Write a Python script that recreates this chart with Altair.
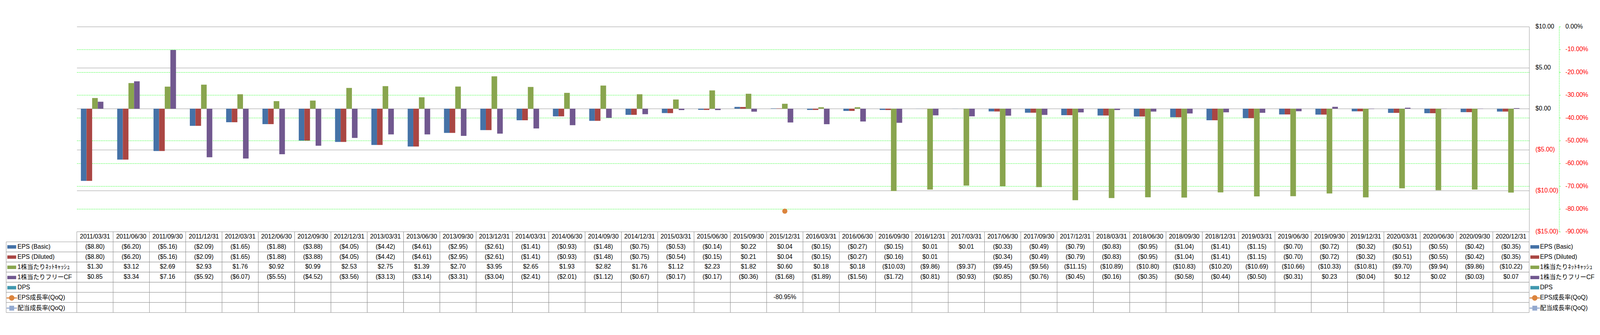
import altair as alt
import pandas as pd

# ---------------- data ----------------
dates = [
    "2011/03/31", "2011/06/30", "2011/09/30", "2011/12/31",
    "2012/03/31", "2012/06/30", "2012/09/30", "2012/12/31",
    "2013/03/31", "2013/06/30", "2013/09/30", "2013/12/31",
    "2014/03/31", "2014/06/30", "2014/09/30", "2014/12/31",
    "2015/03/31", "2015/06/30", "2015/09/30", "2015/12/31",
    "2016/03/31", "2016/06/30", "2016/09/30", "2016/12/31",
    "2017/03/31", "2017/06/30", "2017/09/30", "2017/12/31",
    "2018/03/31", "2018/06/30", "2018/09/30", "2018/12/31",
    "2019/03/31", "2019/06/30", "2019/09/30", "2019/12/31",
    "2020/03/31", "2020/06/30", "2020/09/30", "2020/12/31",
]

eps_basic = [-8.80, -6.20, -5.16, -2.09, -1.65, -1.88, -3.88, -4.05,
             -4.42, -4.61, -2.95, -2.61, -1.41, -0.93, -1.48, -0.75,
             -0.53, -0.14, 0.22, 0.04, -0.15, -0.27, -0.15, 0.01,
             0.01, -0.33, -0.49, -0.79, -0.83, -0.95, -1.04, -1.41,
             -1.15, -0.70, -0.72, -0.32, -0.51, -0.55, -0.42, -0.35]
eps_diluted = [-8.80, -6.20, -5.16, -2.09, -1.65, -1.88, -3.88, -4.05,
               -4.42, -4.61, -2.95, -2.61, -1.41, -0.93, -1.48, -0.75,
               -0.54, -0.15, 0.21, 0.04, -0.15, -0.27, -0.16, 0.01,
               None, -0.34, -0.49, -0.79, -0.83, -0.95, -1.04, -1.41,
               -1.15, -0.70, -0.72, -0.32, -0.51, -0.55, -0.42, -0.35]
net_cash = [1.30, 3.12, 2.69, 2.93, 1.76, 0.92, 0.99, 2.53,
            2.75, 1.39, 2.70, 3.95, 2.65, 1.93, 2.82, 1.76,
            1.12, 2.23, 1.82, 0.60, 0.18, 0.18, -10.03, -9.86,
            -9.37, -9.45, -9.56, -11.15, -10.89, -10.80, -10.83, -10.20,
            -10.69, -10.66, -10.33, -10.81, -9.70, -9.94, -9.86, -10.22]
fcf = [0.85, 3.34, 7.16, -5.92, -6.07, -5.55, -4.52, -3.56,
       -3.13, -3.14, -3.31, -3.04, -2.41, -2.01, -1.12, -0.67,
       -0.17, -0.17, -0.36, -1.68, -1.89, -1.56, -1.72, -0.81,
       -0.93, -0.85, -0.76, -0.45, -0.16, -0.35, -0.58, -0.44,
       -0.50, -0.31, 0.23, -0.04, 0.12, 0.02, -0.03, 0.07]
dps = [None] * 40
eps_growth = [None] * 19 + [-0.8095] + [None] * 20
div_growth = [None] * 40

series_names = ["EPS (Basic)", "EPS (Diluted)", "1株当たりﾈｯﾄｷｬｯｼｭ",
                "1株当たりフリーCF", "DPS", "EPS成長率(QoQ)", "配当成長率(QoQ)"]
series_colors = ["#4572A7", "#AA4643", "#89A54E", "#71588F",
                 "#4198AF", "#DB843D", "#93A9CF"]
series_kind = ["money", "money", "money", "money", "money", "pct", "pct"]

money_ticks = [-15, -10, -5, 0, 5, 10]
pct_ticks = [0, -0.1, -0.2, -0.3, -0.4, -0.5, -0.6, -0.7, -0.8, -0.9]

# ---------------- styling ----------------
FONT = "Liberation Sans, Arial, Noto Sans CJK JP, sans-serif"
GRAY = "#868686"
GREEN = "#00FF00"
W = 4268
H1 = 603
ROWH = 29.7
H2 = ROWH * 8

bar_series = series_names[:5]
bar_values = [eps_basic, eps_diluted, net_cash, fcf, dps]
bar_df = pd.DataFrame([
    {"date": d, "series": s, "value": v}
    for s, vals in zip(bar_series, bar_values)
    for d, v in zip(dates, vals) if v is not None
])
growth_df = pd.DataFrame([
    {"date": d, "value": v} for d, v in zip(dates, eps_growth) if v is not None
])

all_values = bar_values + [eps_growth, div_growth]
tab_df = pd.DataFrame([
    {"date": d, "row": s, "value": v, "kind": k}
    for s, vals, k in zip(series_names, all_values, series_kind)
    for d, v in zip(dates, vals) if v is not None
])
rows = ["_hdr"] + series_names
cells_df = pd.DataFrame([{"date": d, "row": r} for r in rows for d in dates])
hdr_df = pd.DataFrame({"date": dates, "row": ["_hdr"] * len(dates)})
label_df = pd.DataFrame({"row": series_names})
legend_df = pd.DataFrame({"series": series_names})

# ---------------- chart 1: bars + growth point ----------------
money_label = ("datum.value < 0 ? '($' + format(-datum.value, ',.2f') + ')' "
               ": '$' + format(datum.value, ',.2f')")
pct_label = ("datum.value < -0.0001 ? '-' + format(-datum.value * 100, '.2f') + '%' "
             ": format(0, '.2f') + '%'")

money_axis = alt.Axis(
    orient="right", values=money_ticks, grid=True, gridColor=GRAY, gridWidth=1,
    domain=True, domainColor=GRAY, domainWidth=1, ticks=False, labelPadding=18,
    labelFont=FONT, labelFontSize=18, labelAlign="left", labelBaseline="middle",
    labelExpr=money_label, title=None,
    labelColor={"condition": {"test": "datum.value < 0", "value": "#FF0000"},
                "value": "#000000"},
)
pct_axis = alt.Axis(
    orient="right", offset=88, values=pct_ticks, grid=True, gridColor=GREEN,
    gridDash=[3, 2], gridWidth=1,
    gridOpacity={"condition": {"test": "datum.value > -0.001 || datum.value < -0.899",
                               "value": 0}, "value": 1},
    domain=True, domainColor=GREEN, domainDash=[3, 2], domainWidth=1,
    ticks=True, tickColor=GREEN, tickSize=4, tickWidth=1, labelPadding=14,
    labelFont=FONT, labelFontSize=18, labelAlign="left", labelBaseline="middle",
    labelExpr=pct_label, title=None,
    labelColor={"condition": {"test": "datum.value < -0.0001", "value": "#FF0000"},
                "value": "#000000"},
)

xband = alt.Scale(domain=dates, paddingInner=0.226, paddingOuter=0.113)

bars = alt.Chart(bar_df).mark_bar().encode(
    x=alt.X("date:N", scale=xband, axis=None, sort=dates),
    xOffset=alt.XOffset("series:N", scale=alt.Scale(domain=bar_series, paddingInner=0, paddingOuter=0)),
    y=alt.Y("value:Q", scale=alt.Scale(domain=[-15, 10], nice=False, zero=False), axis=money_axis),
    color=alt.Color("series:N", scale=alt.Scale(domain=bar_series, range=series_colors[:5]), legend=None),
)
pts = alt.Chart(growth_df).mark_point(filled=True, size=230, opacity=1, color=series_colors[5]).encode(
    x=alt.X("date:N", scale=xband, axis=None, sort=dates),
    y=alt.Y("value:Q", scale=alt.Scale(domain=[-0.9, 0], nice=False, zero=False), axis=pct_axis),
)
chart1 = alt.layer(bars, pts).resolve_scale(y="independent").properties(width=W, height=H1)

# ---------------- chart 2: data table ----------------
def xt():
    return alt.Scale(domain=dates, paddingInner=0, paddingOuter=0)

def yt():
    return alt.Scale(domain=rows, paddingInner=0, paddingOuter=0)

cells = alt.Chart(cells_df).mark_rect(fill="white", stroke=GRAY, strokeWidth=1).encode(
    x=alt.X("date:N", scale=xt(), axis=None),
    y=alt.Y("row:N", scale=yt(), axis=None),
)
labcol = alt.Chart(label_df).transform_calculate(c0="0", c1="1").mark_rect(
    fill="white", stroke=GRAY, strokeWidth=1).encode(
    x=alt.X("c0:Q", scale=alt.Scale(domain=[0, 1], range=[-207.5, 0]), axis=None),
    x2="c1:Q",
    y=alt.Y("row:N", scale=yt(), axis=None),
)
hdr = alt.Chart(hdr_df).mark_text(font=FONT, fontSize=18, color="black").encode(
    x=alt.X("date:N", scale=xt(), axis=None),
    y=alt.Y("row:N", scale=yt(), axis=None),
    text="date:N",
)
value_label = ("datum.kind == 'pct' ? (datum.value < 0 ? '-' : '') + format(abs(datum.value) * 100, '.2f') + '%' "
               ": (datum.value < 0 ? '($' + format(-datum.value, ',.2f') + ')' : '$' + format(datum.value, ',.2f'))")
vals = alt.Chart(tab_df).transform_calculate(label=value_label).mark_text(
    font=FONT, fontSize=18, color="black").encode(
    x=alt.X("date:N", scale=xt(), axis=None),
    y=alt.Y("row:N", scale=yt(), axis=None),
    text="label:N",
)

shape_paths = [
    "M-0.84,-0.32H0.84V0.32H-0.84Z",
    "M-0.84,-0.32H0.84V0.32H-0.84Z",
    "M-0.84,-0.32H0.84V0.32H-0.84Z",
    "M-0.84,-0.32H0.84V0.32H-0.84Z",
    "M-0.84,-0.32H0.84V0.32H-0.84Z",
    "M-1,-0.1H1V0.1H-1Z M0.52,0A0.52,0.52 0 1,1 -0.52,0A0.52,0.52 0 1,1 0.52,0Z",
    "M-1,-0.1H1V0.1H-1Z M-0.46,-0.46H0.46V0.46H-0.46Z",
]

def legend_layer(lx, lo):
    leg = alt.Legend(orient="none", legendX=lx, legendY=ROWH, title=None, direction="vertical",
                     symbolSize=961, symbolStrokeWidth=0, symbolOpacity=1,
                     labelFont=FONT, labelFontSize=18, labelColor="black", labelOffset=lo,
                     clipHeight=ROWH, rowPadding=0, padding=0, labelLimit=180)
    return alt.Chart(legend_df).transform_filter("false").mark_point(filled=True, opacity=1).encode(
        color=alt.Color("series:N", scale=alt.Scale(domain=series_names, range=series_colors), legend=leg),
        shape=alt.Shape("series:N", scale=alt.Scale(domain=series_names, range=shape_paths), legend=leg),
    )

leg_left = legend_layer(-206.7, 1.5)
leg_right = legend_layer(W + 1, 0)

chart2 = alt.layer(cells, labcol, hdr, vals, leg_left, leg_right).resolve_scale(
    x="independent", color="independent", shape="independent"
).resolve_legend(color="independent", shape="independent").properties(width=W, height=H2)

chart = alt.vconcat(chart1, chart2, spacing=0, bounds="flush").properties(
    padding={"left": 7.5, "top": -3.7, "right": 5, "bottom": 0},
    background="white",
).configure_view(stroke="transparent")

chart.save("out.html", embed_options={"renderer": "svg", "actions": False})
